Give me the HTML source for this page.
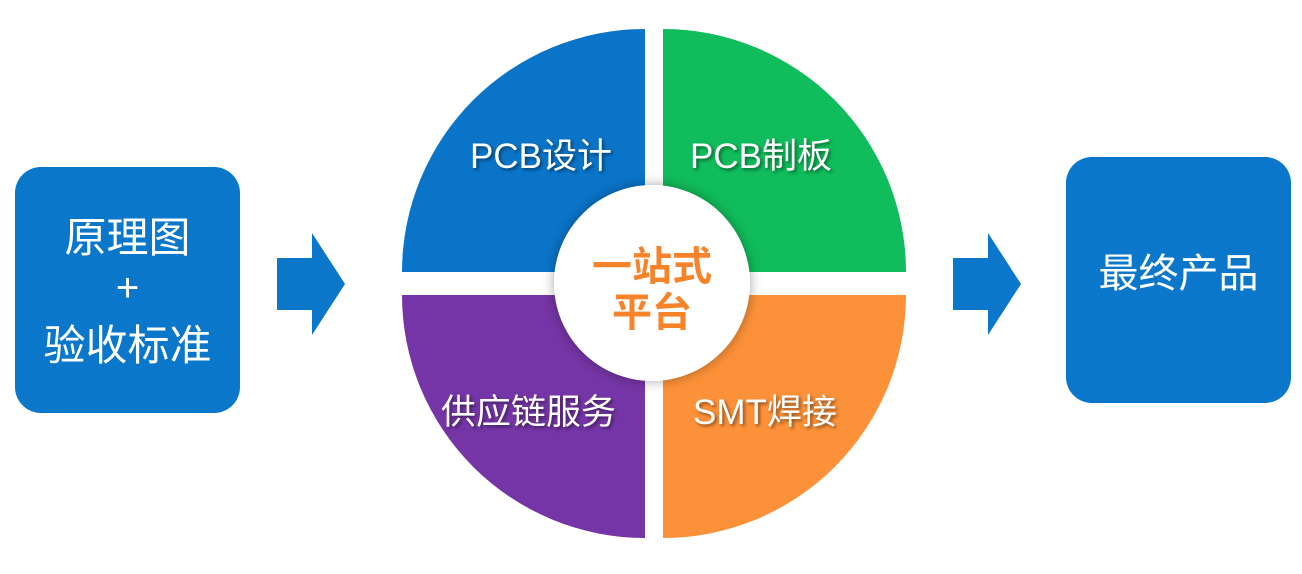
<!DOCTYPE html>
<html><head><meta charset="utf-8"><style>
body{margin:0;width:1302px;height:574px;background:#fff;overflow:hidden;position:relative;font-family:"Liberation Sans","Noto Sans CJK SC",sans-serif}
.box{position:absolute;background:#0a77cb;border-radius:26px;color:#fff;text-align:center}
.t{position:absolute;color:#fff;white-space:nowrap;text-shadow:2px 2px 3px rgba(0,0,0,.45)}
</style></head><body>
<div class="box" style="left:15px;top:167px;width:225px;height:246px"></div>
<div class="t" style="left:15px;width:225px;text-align:center;top:214px;font-size:42px;line-height:48px;text-shadow:none">原理图</div>
<div class="t" style="left:15px;width:225px;text-align:center;top:266px;font-size:40px;line-height:44px;text-shadow:none">+</div>
<div class="t" style="left:15px;width:225px;text-align:center;top:322px;font-size:42px;line-height:48px;text-shadow:none">验收标准</div>
<div class="box" style="left:1066px;top:157px;width:225px;height:246px"></div>
<div class="t" style="left:1066px;width:225px;text-align:center;top:250px;font-size:40px;line-height:48px;text-shadow:none">最终产品</div>
<svg width="1302" height="574" style="position:absolute;left:0;top:0">
<defs><filter id="s" x="-20%" y="-20%" width="140%" height="140%"><feDropShadow dx="0" dy="0" stdDeviation="6" flood-color="#000" flood-opacity=".35"/></filter></defs>
<polygon points="277,258 312,258 312,233 345,284 312,335 312,310 277,310" fill="#0a77cb"/>
<polygon points="953,258 988,258 988,233 1021,284 988,335 988,310 953,310" fill="#0a77cb"/>
<path d="M645,272 L402,272 A243,243 0 0 1 645,29 Z" fill="#0a74c8"/>
<path d="M663,272 L663,29 A243,243 0 0 1 906,272 Z" fill="#10bc5b"/>
<path d="M645,295 L645,538 A243,243 0 0 1 402,295 Z" fill="#7535a6"/>
<path d="M663,295 L906,295 A243,243 0 0 1 663,538 Z" fill="#fd9139"/>
<circle cx="652" cy="283" r="98" fill="#fff" filter="url(#s)"/>
</svg>
<div class="t" style="left:470px;top:136px;font-size:35px;line-height:42px">PCB设计</div>
<div class="t" style="left:690px;top:136px;font-size:35px;line-height:42px">PCB制板</div>
<div class="t" style="left:441px;top:392px;font-size:35px;line-height:42px">供应链服务</div>
<div class="t" style="left:693px;top:392px;font-size:35px;line-height:42px">SMT焊接</div>
<div class="t" style="left:552px;width:200px;text-align:center;top:244px;font-size:40px;line-height:46px;color:#f7842a;font-weight:bold;text-shadow:none">一站式<br>平台</div>
</body></html>
